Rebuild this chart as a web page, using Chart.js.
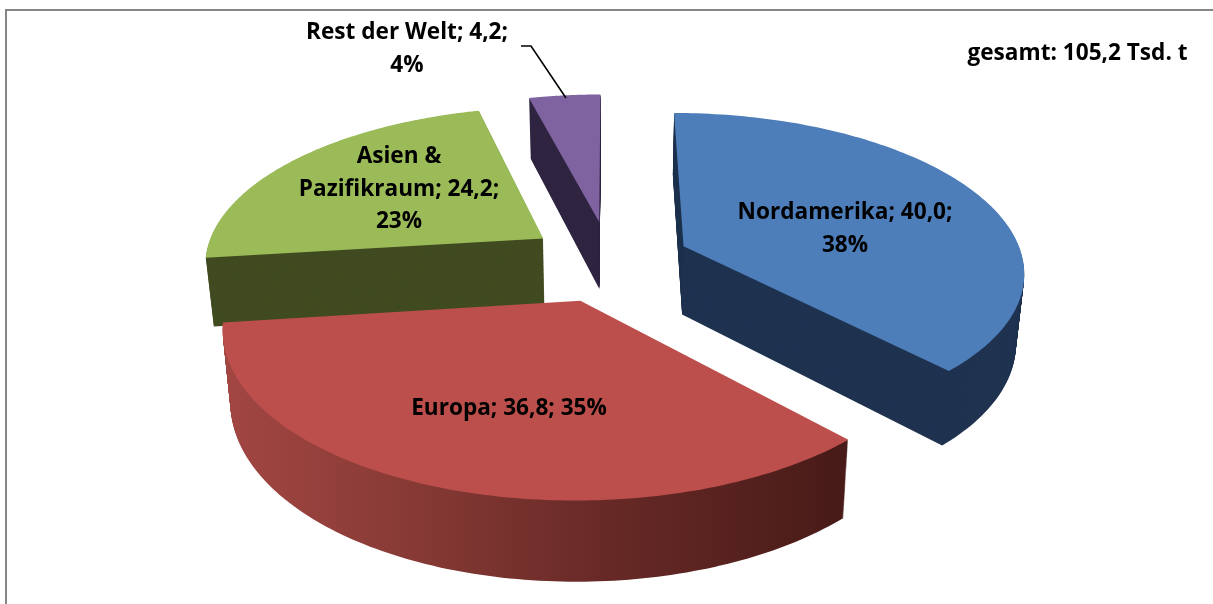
<!DOCTYPE html>
<html><head><meta charset="utf-8">
<style>html,body{margin:0;padding:0;background:#fff;overflow:hidden}canvas{display:block}</style>
<script src="https://cdn.jsdelivr.net/npm/chart.js@4"></script>
</head><body>
<canvas id="c" width="1213" height="604"></canvas>
<script>
const categories = ["Nordamerika","Europa","Asien & Pazifikraum","Rest der Welt"];
const values = [40.0,36.8,24.2,4.2];
const totalLabel = "gesamt: 105,2 Tsd. t";
const topColors = ["#4D7EBA","#BC4F4C","#9BBB59","#7F63A1"];
const sideColors = ["#1F3350",null,"#414B21","#2F2541"];

const pct = v => Math.round(v/values.reduce((a,b)=>a+b,0)*100)+"%";
const num = v => v.toFixed(1).replace(".",",");
const labelLines = [
  [`${categories[0]}; ${num(values[0])};`, pct(values[0])],
  [`${categories[1]}; ${num(values[1])}; ${pct(values[1])}`],
  ["Asien &", `Pazifikraum; ${num(values[2])};`, pct(values[2])],
  [`${categories[3]}; ${num(values[3])};`, pct(values[3])]
];
const labelAnchors = [[845,213],[509,409],[399,157],[407,33]];
const lineGap = 32.5;
const FONT = 'bold 22.6px "Open Sans"';

// perspective view of the pie plane
const view = {cx:609, cy:261, A:340, B:157, k:0.148, D:69, shrink:0.02, ex:0.92};
function project(X,Y,t){
  const w = 1 - view.k*Y;
  const x = view.cx + view.A*X/w, y = view.cy + view.B*Y/w;
  return [view.cx + (x-view.cx)*(1-view.shrink*t), y + t*view.D/Math.pow(w,0.8)];
}
function slicePath(ctx,el,t){
  const p = el.getProps(['startAngle','endAngle','outerRadius']);
  const R = p.outerRadius, off = el.options.offset/R;
  const mid = (p.startAngle+p.endAngle)/2;
  const ox = Math.cos(mid)*off*view.ex, oy = Math.sin(mid)*off;
  ctx.beginPath();
  let q = project(ox,oy,t); ctx.moveTo(q[0],q[1]);
  const n = 120;
  for(let i=0;i<=n;i++){
    const a = p.startAngle+(p.endAngle-p.startAngle)*i/n;
    q = project(ox+Math.cos(a),oy+Math.sin(a),t);
    ctx.lineTo(q[0],q[1]);
  }
  ctx.closePath();
}
const pie3d = {
  id:'pie3d',
  beforeDatasetDraw(chart,args){
    const ctx = chart.ctx, els = chart.getDatasetMeta(0).data;
    const order = [3,0,2,1];
    ctx.save();
    for(const i of order){
      const el = els[i];
      let side = sideColors[i];
      if(!side){
        side = ctx.createLinearGradient(228,0,840,0);
        side.addColorStop(0,'#A24642');
        side.addColorStop(0.3,'#873A35');
        side.addColorStop(0.6,'#692A27');
        side.addColorStop(1,'#481B18');
      }
      ctx.fillStyle = side;
      for(let d=80;d>=1;d--){ slicePath(ctx,el,d/80); ctx.fill(); }
      slicePath(ctx,el,0);
      ctx.fillStyle = el.options.backgroundColor; ctx.fill();
    }
    ctx.restore();
    return false;
  },
  afterDraw(chart){
    const ctx = chart.ctx;
    ctx.save();
    // frame
    ctx.strokeStyle='#868686'; ctx.lineWidth=2;
    ctx.beginPath(); ctx.moveTo(6,604); ctx.lineTo(6,10); ctx.lineTo(1213,10); ctx.stroke();
    // leader line
    ctx.strokeStyle='#000'; ctx.lineWidth=1.6;
    ctx.beginPath(); ctx.moveTo(521,46); ctx.lineTo(531,46); ctx.lineTo(566,98); ctx.stroke();
    // labels
    ctx.fillStyle='#000'; ctx.font=FONT; ctx.textAlign='center'; ctx.textBaseline='middle';
    labelLines.forEach((ls,i)=>ls.forEach((s,j)=>ctx.fillText(s,labelAnchors[i][0],labelAnchors[i][1]+j*lineGap)));
    ctx.fillText(totalLabel,1077.5,54);
    ctx.restore();
  }
};
new Chart(document.getElementById('c'),{
  type:'pie',
  data:{labels:categories,datasets:[{data:values,backgroundColor:topColors,borderWidth:0,offset:52,hoverOffset:0,clip:false}]},
  options:{responsive:false,animation:false,radius:200,rotation:0,
    plugins:{legend:{display:false},tooltip:{enabled:false}}},
  plugins:[pie3d]
});
</script>
</body></html>
